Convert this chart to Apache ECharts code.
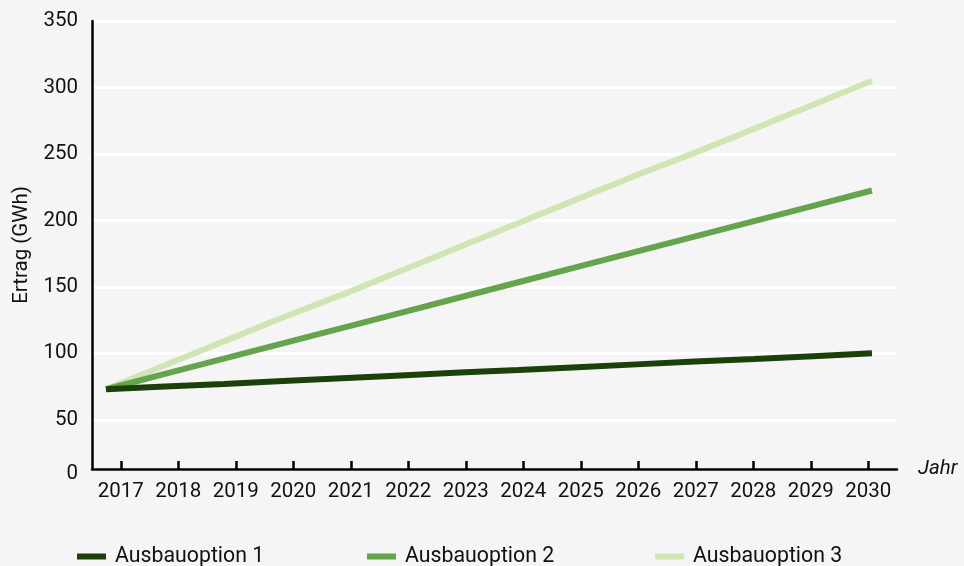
<!DOCTYPE html>
<html>
<head>
<meta charset="utf-8">
<script src="https://cdn.jsdelivr.net/npm/echarts@6/dist/echarts.min.js"></script>
<style>
html,body{margin:0;padding:0;background:#f5f5f5;}
#c{width:964px;height:566px;}
</style>
</head>
<body>
<div id="c"></div>
<script>
var years = ['2017','2018','2019','2020','2021','2022','2023','2024','2025','2026','2027','2028','2029','2030'];
var yearNums = [2017,2018,2019,2020,2021,2022,2023,2024,2025,2026,2027,2028,2029,2030];
var option1 = [73, 75, 77, 79.2, 81.3, 83.4, 85.5, 87.5, 89.6, 91.7, 93.8, 95.8, 97.9, 100];
var option2 = [73, 84.5, 96, 107.5, 119, 130.5, 142, 153.5, 165, 176.5, 188, 199.5, 211, 222.5];
var option3 = [73, 91, 109, 127, 144, 162, 180, 198, 216, 234, 251, 269, 287, 305];
var seriesNames = ['Ausbauoption 1', 'Ausbauoption 2', 'Ausbauoption 3'];
var yTickValues = [13, 50, 100, 150, 200, 250, 300, 350];
var yTickLabels = ['0', '50', '100', '150', '200', '250', '300', '350'];

var colors = ['#1b4008', '#65a34d', '#cfe5b4'];
var font = 'Roboto';

function pairs(vals) {
  return vals.map(function (v, i) { return [yearNums[i], v]; });
}

var chart = echarts.init(document.getElementById('c'), null, {renderer: 'canvas'});
var allData = [option1, option2, option3];
var legendLefts = [72, 362, 650];

chart.setOption({
  backgroundColor: '#f5f5f5',
  animation: false,
  textStyle: {fontFamily: font},
  grid: {left: 92, right: 67, top: 21, bottom: 97, containLabel: false},
  legend: seriesNames.map(function (n, i) {
    return {
      data: [n],
      left: legendLefts[i],
      top: 541,
      icon: 'rect',
      itemWidth: 29,
      itemHeight: 6,
      selectedMode: false,
      textStyle: {fontFamily: font, fontSize: 21.3, color: '#111', padding: [0, 0, 0, 4]}
    };
  }),
  xAxis: [{
    type: 'category',
    data: years,
    boundaryGap: true,
    z: 10,
    axisLine: {show: true, onZero: false, lineStyle: {color: '#000', width: 2.5}},
    axisTick: {show: true, alignWithLabel: true, interval: 0, inside: true, length: 8, lineStyle: {color: '#000', width: 2.5}},
    axisLabel: {interval: 0, margin: 12, fontSize: 20.5, color: '#111', fontFamily: font},
    splitLine: {show: false},
    name: 'Jahr',
    nameLocation: 'end',
    nameGap: 21,
    nameTextStyle: {fontStyle: 'italic', fontSize: 20.5, color: '#111', fontFamily: font}
  }, {
    type: 'value',
    min: 2016.762,
    max: 2030.425,
    show: false
  }],
  yAxis: {
    type: 'value',
    min: 13,
    max: 350,
    name: 'Ertrag (GWh)',
    nameLocation: 'middle',
    nameGap: 56,
    nameTextStyle: {fontSize: 20.5, color: '#111', fontFamily: font},
    axisLine: {show: true, lineStyle: {color: '#000', width: 2.5}},
    axisTick: {show: false},
    axisLabel: {
      margin: 14,
      fontSize: 20.5,
      color: '#111',
      fontFamily: font,
      customValues: yTickValues,
      formatter: function (v) {
        var idx = yTickValues.indexOf(v);
        var t = idx >= 0 ? yTickLabels[idx] : String(v);
        return idx === 0 ? '{z|' + t + '}' : t;
      },
      rich: {z: {fontSize: 20.5, color: '#111', fontFamily: font, padding: [10, 0, 0, 0]}}
    },
    splitLine: {show: true, lineStyle: {color: '#ffffff', width: 3}}
  },
  series: allData.map(function (d, i) {
    return {
      name: seriesNames[i],
      type: 'line',
      xAxisIndex: 1,
      data: pairs(d),
      color: colors[i],
      showSymbol: false,
      symbol: 'none',
      lineStyle: {color: colors[i], width: 6, cap: 'butt'},
      emphasis: {disabled: true},
      z: 3 + (2 - i)
    };
  })
});
</script>
</body>
</html>
